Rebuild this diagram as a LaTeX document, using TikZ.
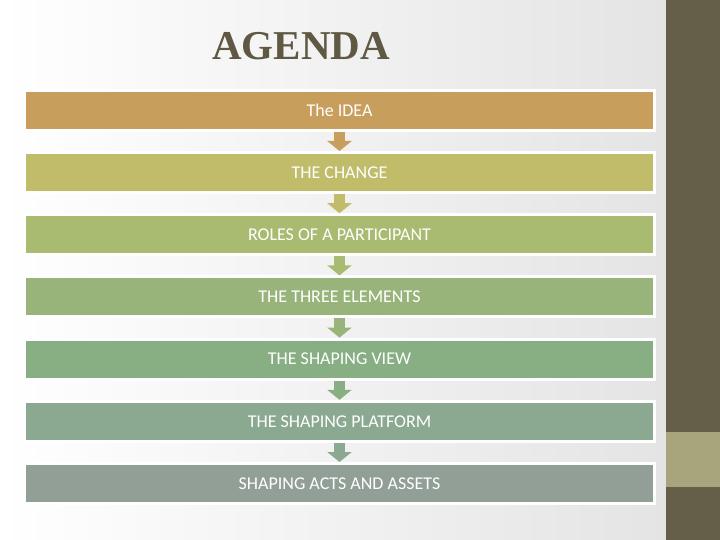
\documentclass[tikz,border=0pt]{standalone}
\usepackage{fontspec}
\setmainfont{Carlito}
\newfontfamily\titlefont{Liberation Serif}
\usetikzlibrary{arrows.meta}

\definecolor{panel}{HTML}{655E48}
\definecolor{band}{HTML}{A8A57C}
\definecolor{titlecol}{HTML}{5F5843}
\definecolor{cA}{HTML}{C89E5C}
\definecolor{cB}{HTML}{C0BC6A}
\definecolor{cC}{HTML}{A8BB70}
\definecolor{cD}{HTML}{98B47A}
\definecolor{cE}{HTML}{88AE84}
\definecolor{cF}{HTML}{8BA990}
\definecolor{cG}{HTML}{919F97}

\tikzset{
  bar/.style={draw=white,line width=3pt,minimum width=630pt,minimum height=40pt,
    inner sep=0pt,text=white,font=\fontsize{18}{21}\selectfont},
  flow/.style={line width=11pt,-{Triangle[width=24pt,length=10pt]}}
}

\begin{document}
\begin{tikzpicture}[x=1pt,y=-1pt]
\useasboundingbox (0,0) rectangle (720,540);
\shade[left color=white,right color={rgb,255:red,228;green,228;blue,228}] (0,0) rectangle (666,540);
\fill[panel] (666,0) rectangle (720,540);
\fill[band] (666,432) rectangle (720,487);
\node[font=\titlefont\bfseries\fontsize{41}{48}\selectfont,text=titlecol] (title) at (301,46) {AGENDA};
\node[bar,fill=cA] (b1) at (339.5,110.3) {The IDEA};
\node[bar,fill=cB] (b2) at (339.5,172.5) {THE CHANGE};
\node[bar,fill=cC] (b3) at (339.5,234.7) {ROLES OF A PARTICIPANT};
\node[bar,fill=cD] (b4) at (339.5,296.9) {THE THREE ELEMENTS};
\node[bar,fill=cE] (b5) at (339.5,359.1) {THE SHAPING VIEW};
\node[bar,fill=cF] (b6) at (339.5,421.3) {THE SHAPING PLATFORM};
\node[bar,fill=cG] (b7) at (339.5,483.5) {SHAPING ACTS AND ASSETS};
\path (b1) edge [flow,cA] (b2);
\path (b2) edge [flow,cB] (b3);
\path (b3) edge [flow,cC] (b4);
\path (b4) edge [flow,cD] (b5);
\path (b5) edge [flow,cE] (b6);
\path (b6) edge [flow,cF] (b7);
\end{tikzpicture}
\end{document}
